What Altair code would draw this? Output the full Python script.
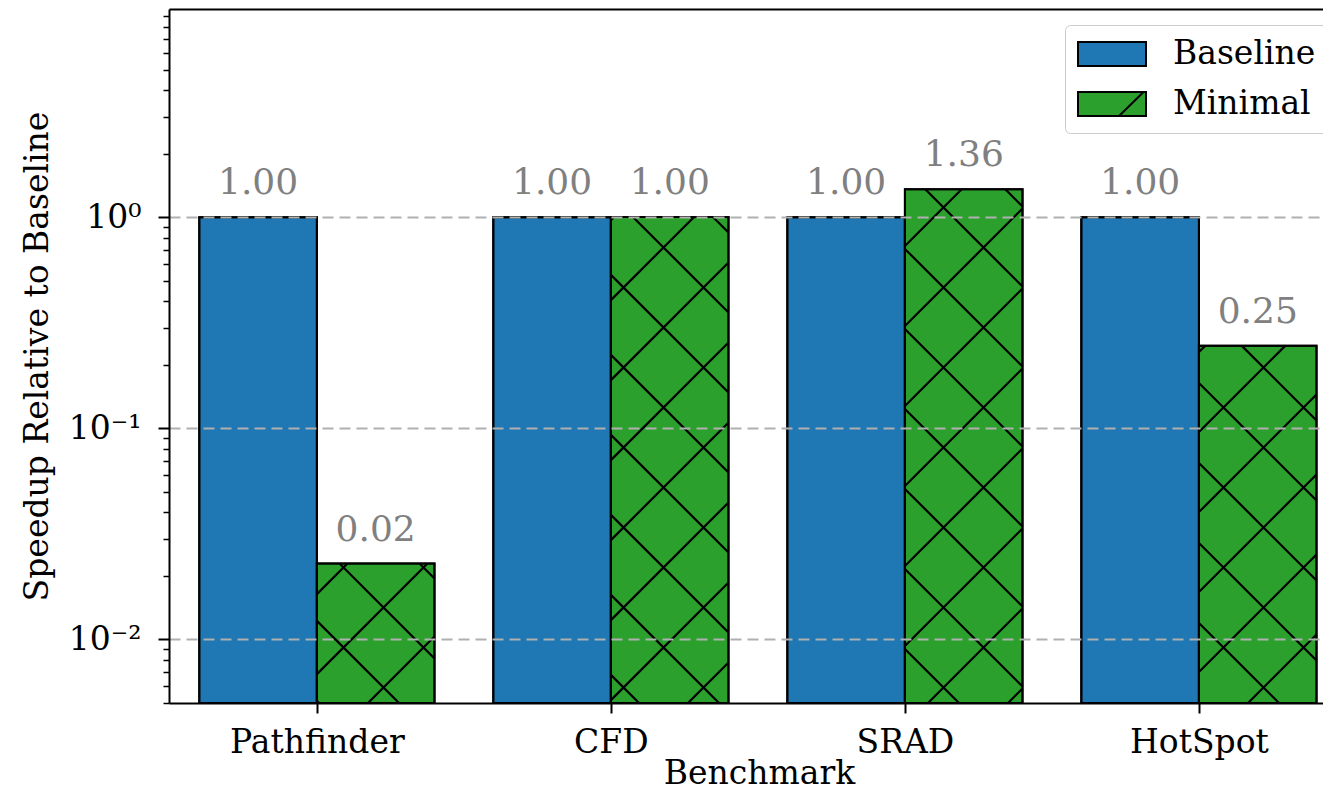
import math
import json
import altair as alt
import pandas as pd

# ---------------- data ----------------
benchmarks = ["Pathfinder", "CFD", "SRAD", "HotSpot"]
series = ["Baseline", "Minimal"]
baseline = [1.00, 1.00, 1.00, 1.00]
minimal = [0.0229, 1.004, 1.357, 0.246]
series_colors = ["#1f77b4", "#2ca02c"]
y_major_ticks = [0.01, 0.1, 1]

# ---------------- layout / style ----------------
W, H = 1154, 694
X_DOM = [-0.503, 3.422]
Y_DOM = [0.005, 9.7]
BAR_W = 0.4
FONT = "DejaVu Serif"
HATCH = 80  # hatch period in px

rows = []
for i, b in enumerate(benchmarks):
    rows.append(dict(benchmark=b, idx=i, series=series[0], value=baseline[i]))
    rows.append(dict(benchmark=b, idx=i, series=series[1], value=minimal[i]))
df = pd.DataFrame(rows)

# ---- hatch segments for the Minimal bars ("x" hatch, 45 deg in pixel space) ----
LY0, LY1 = math.log10(Y_DOM[0]), math.log10(Y_DOM[1])


def px_x(x):
    return (x - X_DOM[0]) / (X_DOM[1] - X_DOM[0]) * W


def inv_x(p):
    return X_DOM[0] + p / W * (X_DOM[1] - X_DOM[0])


def px_y(v):
    return (LY1 - math.log10(v)) / (LY1 - LY0) * H


def inv_y(p):
    return 10 ** (LY1 - p / H * (LY1 - LY0))


segs = []
for i, v in enumerate(minimal):
    x0p, x1p = px_x(i), px_x(i + BAR_W)
    y0p, y1p = px_y(v), H
    # lines  py - px = c
    cmin, cmax = y0p - x1p, y1p - x0p
    c = 64 + math.floor((cmin - 64) / HATCH) * HATCH
    while c <= cmax:
        lo, hi = max(x0p, y0p - c), min(x1p, y1p - c)
        if hi - lo > 0.5:
            segs.append((lo, lo + c, hi, hi + c))
        c += HATCH
    # lines  py + px = c
    cmin, cmax = y0p + x0p, y1p + x1p
    c = 13 + math.floor((cmin - 13) / HATCH) * HATCH
    while c <= cmax:
        lo, hi = max(x0p, c - y1p), min(x1p, c - y0p)
        if hi - lo > 0.5:
            segs.append((lo, c - lo, hi, c - hi))
        c += HATCH

hatch_df = pd.DataFrame(
    [dict(hx=inv_x(a), hy=inv_y(b), hx2=inv_x(c), hy2=inv_y(d)) for a, b, c, d in segs]
)

# ---------------- scales / axes ----------------
xscale = alt.Scale(domain=X_DOM, nice=False, zero=False)
yscale = alt.Scale(type="log", domain=Y_DOM, nice=False)

minor_vals = []
for e in (-3, -2, -1, 0):
    for m in range(2, 10):
        v = round(m * 10 ** e, 6)
        if Y_DOM[0] * 0.999 <= v <= Y_DOM[1]:
            minor_vals.append(v)

LABEL_EXPR = (
    "'10' + replace(replace(replace(replace('' + round(log(datum.value)/LN10), "
    "'-', '\u207b'), '0', '\u2070'), '1', '\u00b9'), '2', '\u00b2')"
)

yaxis_major = alt.Axis(
    orient="left",
    values=y_major_ticks,
    labelExpr=LABEL_EXPR,
    tickSize=11,
    tickWidth=2,
    tickColor="black",
    grid=True,
    gridColor="#b0b0b0",
    gridDash=[11, 6],
    gridWidth=2,
    domainColor="black",
    domainWidth=2,
    labelFont=FONT,
    labelFontSize=33,
    labelColor="black",
    labelPadding=17,
    labelBaseline="middle",
    title="Speedup Relative to Baseline",
    titleFont=FONT,
    titleFontSize=33,
    titleFontWeight="normal",
    titleColor="black",
    titleX=-122,
    titleBaseline="alphabetic",
    zindex=1,
)

yaxis_minor = alt.Axis(
    orient="left",
    values=minor_vals,
    labels=False,
    tickSize=6,
    tickWidth=1.5,
    tickColor="black",
    grid=False,
    domain=False,
    title=None,
    zindex=1,
)

xaxis_bottom = alt.Axis(
    orient="bottom",
    values=list(range(len(benchmarks))),
    labelExpr=json.dumps(benchmarks) + "[datum.value]",
    tickSize=10,
    tickWidth=2,
    tickColor="black",
    domainColor="black",
    domainWidth=2,
    grid=False,
    labelFont=FONT,
    labelFontSize=33,
    labelColor="black",
    labelPadding=13,
    labelBaseline="top",
    title="Benchmark",
    titleFont=FONT,
    titleFontSize=33,
    titleFontWeight="normal",
    titleColor="black",
    titleX=590,
    titleY=80,
    titleBaseline="alphabetic",
)

xaxis_top = alt.Axis(
    orient="top",
    labels=False,
    ticks=False,
    grid=False,
    domainColor="black",
    domainWidth=2,
    title=None,
)

base = alt.Chart(df).transform_calculate(
    x0="datum.idx + (datum.series == '%s' ? -%f : 0)" % (series[0], BAR_W),
).transform_calculate(
    x1="datum.x0 + %f" % BAR_W,
    xc="datum.x0 + %f" % (BAR_W / 2),
    fillc="datum.series == '%s' ? '%s' : '%s'" % (series[0], series_colors[0], series_colors[1]),
)

bars = base.mark_bar(stroke="black", strokeWidth=2, clip=True).encode(
    x=alt.X("x0:Q", scale=xscale, axis=xaxis_bottom),
    x2="x1:Q",
    y=alt.Y("value:Q", scale=yscale, axis=yaxis_major),
    y2=alt.datum(Y_DOM[0]),
    color=alt.Color("fillc:N", scale=None),
)

hatch = alt.Chart(hatch_df).mark_rule(color="black", strokeWidth=2.2, clip=True).encode(
    x=alt.X("hx:Q", scale=xscale, axis=None),
    x2="hx2:Q",
    y=alt.Y("hy:Q", scale=yscale, axis=None),
    y2="hy2:Q",
)

outline = base.mark_bar(fillOpacity=0, stroke="black", strokeWidth=2, clip=True).encode(
    x=alt.X("x0:Q", scale=xscale, axis=None),
    x2="x1:Q",
    y=alt.Y("value:Q", scale=yscale, axis=yaxis_minor),
    y2=alt.datum(Y_DOM[0]),
)

labels = base.mark_text(
    font=FONT, fontSize=36, color="#808080", baseline="alphabetic", dy=-23
).encode(
    x=alt.X("xc:Q", scale=xscale, axis=xaxis_top),
    y=alt.Y("value:Q", scale=yscale, axis=None),
    text=alt.Text("value:Q", format=".2f"),
)

# legend carrier (no visible points)
sym_base = "M-2.125,-0.75H2.125V0.75H-2.125Z"
sym_hatch = sym_base + " M0.44,0.75L1.94,-0.72"
legend_pts = base.transform_filter("false").mark_point(
    filled=True, size=1024, stroke="black", strokeWidth=2, opacity=1
).encode(
    x=alt.X("xc:Q", scale=xscale, axis=None),
    y=alt.Y("value:Q", scale=yscale, axis=None),
    color=alt.Color(
        "series:N",
        scale=alt.Scale(domain=series, range=series_colors),
        legend=alt.Legend(
            title=None,
            orient="none",
            legendX=896,
            legendY=16,
            labelFont=FONT,
            labelFontSize=33,
            labelColor="black",
            labelOffset=44,
            symbolSize=1024,
            symbolOffset=18,
            symbolStrokeColor="black",
            symbolStrokeWidth=2,
            rowPadding=16,
            padding=12,
            strokeColor="#cccccc",
            fillColor="white",
            cornerRadius=5,
        ),
    ),
    shape=alt.Shape(
        "series:N",
        scale=alt.Scale(domain=series, range=[sym_base, sym_hatch]),
    ),
)

chart = (
    alt.layer(bars, hatch, outline, labels, legend_pts)
    .resolve_axis(x="independent", y="independent")
    .properties(
        width=W,
        height=H,
        autosize=alt.AutoSizeParams(type="none"),
        padding={"left": 161, "top": 1, "right": 0, "bottom": 87},
    )
    .configure_view(stroke=None)
    .configure(font=FONT, background="white")
)

chart.save("out.html", embed_options={"renderer": "svg", "actions": False})
